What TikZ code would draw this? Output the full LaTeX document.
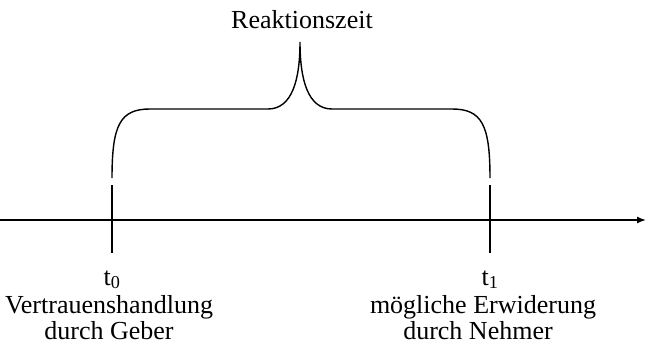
\documentclass[tikz,border=0pt]{standalone}
\usepackage{fontspec}
\setmainfont{Liberation Serif}
\usetikzlibrary{arrows.meta}
\begin{document}
\begin{tikzpicture}[x=1pt,y=-1pt,line width=1.4pt,
  lbl/.style={font=\fontsize{26}{28}\selectfont,inner sep=0pt,anchor=base},
  tick/.style={line width=1.4pt}]
\useasboundingbox (0,0) rectangle (646,346);
\coordinate (a0) at (0,220);
\coordinate (a1) at (646,220);
\draw[-{Latex[length=9pt,width=7pt]}] (a0) -- (a1);
\coordinate (p0t) at (112,185);
\coordinate (p0b) at (112,253);
\coordinate (p1t) at (490,185);
\coordinate (p1b) at (490,253);
\draw[tick] (p0t) -- (p0b);
\draw[tick] (p1t) -- (p1b);
\coordinate (bl) at (112,178);
\coordinate (br) at (490,178);
\coordinate (tip) at (300,42);
\draw (bl) .. controls (112,125) and (120,109) .. (150,109) -- (268,109)
  .. controls (292,109) and (300,80) .. (tip)
  .. controls (300,80) and (308,109) .. (332,109) -- (452,109)
  .. controls (482,109) and (490,125) .. (br);
\node[lbl] (rz) at (302,28) {Reaktionszeit};
\node[lbl] (t0) at (112,285) {t\textsubscript{0}};
\node[lbl] (v0) at (109,313) {Vertrauenshandlung};
\node[lbl] (g0) at (109,339) {durch Geber};
\node[lbl] (t1) at (490,285) {t\textsubscript{1}};
\node[lbl] (v1) at (483,313) {mögliche Erwiderung};
\node[lbl] (g1) at (478,339) {durch Nehmer};
\end{tikzpicture}
\end{document}
